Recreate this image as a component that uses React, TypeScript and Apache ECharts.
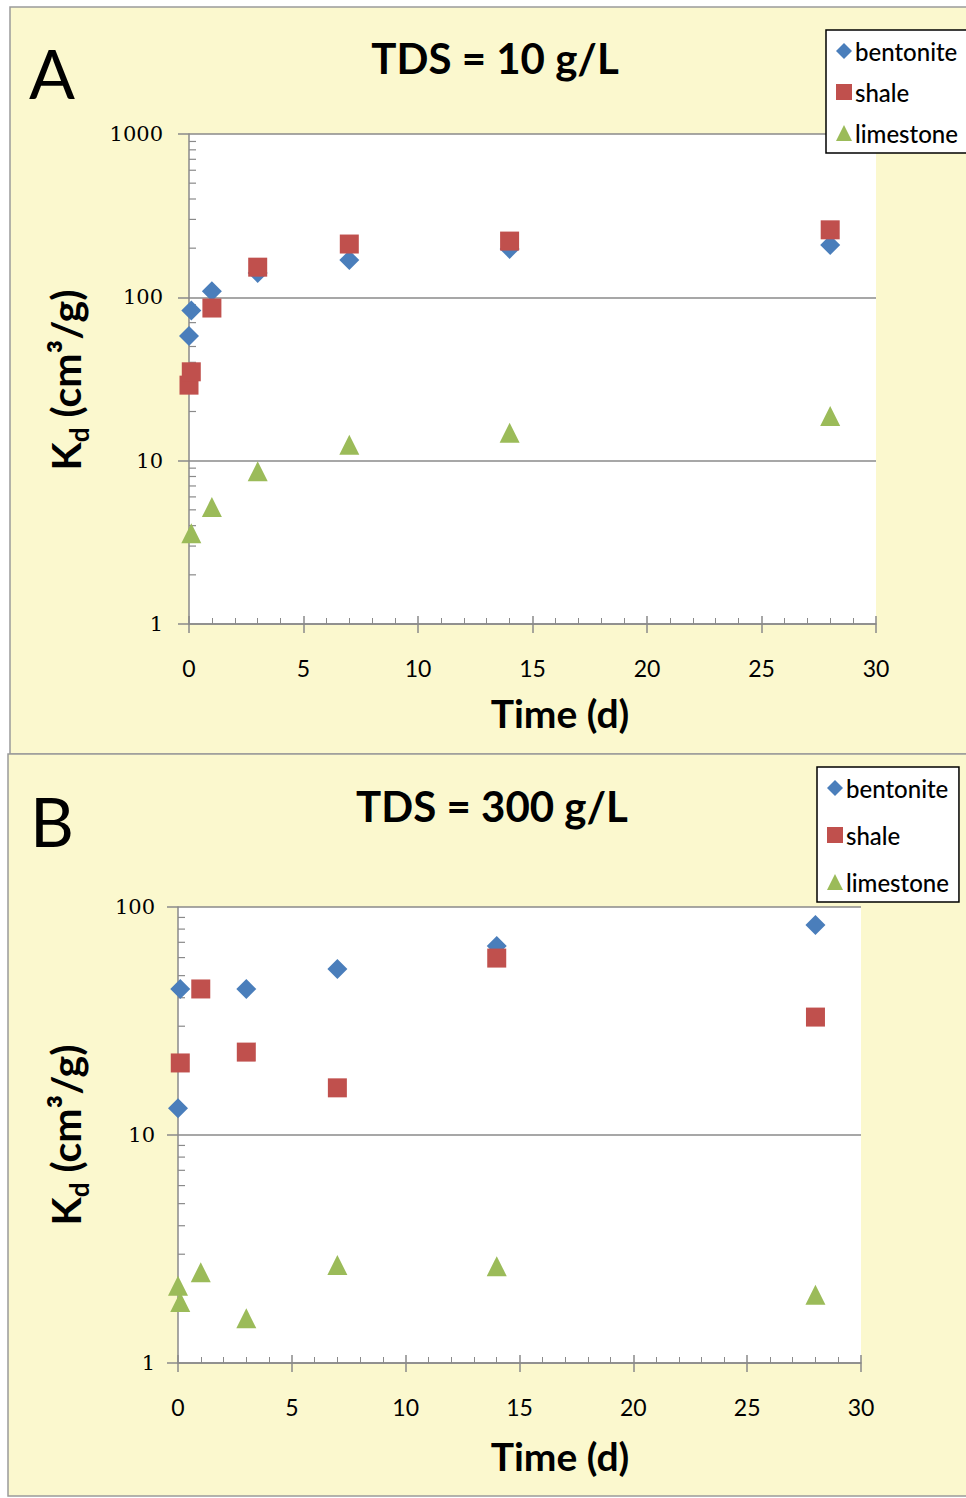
import React, { useEffect, useRef } from "react";
import * as echarts from "echarts";

// Sorption coefficient Kd (cm³/g) versus contact time (d)
const seriesNames = ["bentonite", "shale", "limestone"];
const seriesColors = ["#4A7EBB", "#C0504D", "#9BBB59"];
const seriesSymbols = ["diamond", "rect", "triangle"];

// Panel A: TDS = 10 g/L
const timeBentoniteA = [0, 0.1, 1, 3, 7, 14, 28];
const kdBentoniteA = [58, 83, 109, 141, 169, 198, 209];
const timeShaleA = [0, 0.1, 1, 3, 7, 14, 28];
const kdShaleA = [29, 35, 86, 153, 212, 221, 259];
const timeLimestoneA = [0.1, 1, 3, 7, 14, 28];
const kdLimestoneA = [3.6, 5.2, 8.6, 12.5, 14.8, 18.8];

// Panel B: TDS = 300 g/L
const timeBentoniteB = [0, 0.1, 3, 7, 14, 28];
const kdBentoniteB = [13.1, 43.7, 43.7, 53.5, 67.4, 83.4];
const timeShaleB = [0.1, 1, 3, 7, 14, 28];
const kdShaleB = [20.7, 43.7, 23.1, 16.1, 59.7, 32.9];
const timeLimestoneB = [0, 0.1, 1, 3, 7, 14, 28];
const kdLimestoneB = [2.18, 1.85, 2.5, 1.57, 2.69, 2.66, 1.99];

const panelTitles = ["TDS = 10 g/L", "TDS = 300 g/L"];
const panelLetters = ["A", "B"];
const xTitle = "Time (d)";
const yMaxA = 1000;
const yMaxB = 100;

// minor ticks of a log axis: 2..9 in every decade
const logMinorA = [2, 3, 4, 5, 6, 7, 8, 9, 20, 30, 40, 50, 60, 70, 80, 90, 200, 300, 400, 500, 600, 700, 800, 900];
const logMinorB = [2, 3, 4, 5, 6, 7, 8, 9, 20, 30, 40, 50, 60, 70, 80, 90];

const pairs = (t: number[], v: number[]) => t.map((x, i) => [x, v[i]]);

const SANS = 'Lato, "Noto Sans", sans-serif';
const SERIF = '"DejaVu Serif", "Liberation Serif", serif';
const PANEL_BG = "#FBF8CE";
const GRID_GRAY = "#8A8A8A";

export default function App() {
  const ref = useRef<HTMLDivElement>(null);

  useEffect(() => {
    if (!ref.current) return;
    const chart = echarts.init(ref.current, null, { renderer: "svg" });

    const grids = [
      { left: 189, top: 134, width: 687, height: 490 },
      { left: 178, top: 907, width: 683, height: 456 },
    ];

    const mainX = (gi: number) => ({
      gridIndex: gi,
      type: "value",
      min: 0,
      max: 30,
      interval: 5,
      position: "bottom",
      axisLine: { show: true, lineStyle: { color: GRID_GRAY, width: 1.5 } },
      axisTick: { show: true, inside: false, length: 9, lineStyle: { color: GRID_GRAY, width: 1.5 } },
      minorTick: { show: false },
      splitLine: { show: false },
      axisLabel: { margin: 32, fontFamily: SANS, fontSize: 23, color: "#000" },
    });
    const innerX = (gi: number) => ({
      gridIndex: gi,
      type: "value",
      min: 0,
      max: 30,
      interval: 5,
      position: "bottom",
      axisLine: { show: false },
      axisTick: { show: true, inside: true, length: 8, lineStyle: { color: GRID_GRAY, width: 1.5 } },
      minorTick: { show: true, splitNumber: 5, length: 6, lineStyle: { color: GRID_GRAY, width: 1 } },
      splitLine: { show: false },
      axisLabel: { show: false },
    });
    const logY = (gi: number, max: number, margin: number) => ({
      gridIndex: gi,
      type: "log",
      logBase: 10,
      min: 1,
      max,
      axisLine: { show: true, lineStyle: { color: GRID_GRAY, width: 1.5 } },
      axisTick: { show: true, inside: false, length: 11, lineStyle: { color: GRID_GRAY, width: 1.5 } },
      splitLine: { show: true, lineStyle: { color: GRID_GRAY, width: 1.5 } },
      axisLabel: { margin, fontFamily: SERIF, fontSize: 21, color: "#000", formatter: (v: number) => String(Math.round(v)) },
    });

    const scatter = (k: number, gi: number, data: number[][]) => ({
      name: seriesNames[k],
      type: "scatter",
      xAxisIndex: gi * 2,
      yAxisIndex: gi,
      symbol: seriesSymbols[k],
      symbolSize: k === 1 ? 19 : 20,
      itemStyle: { color: seriesColors[k], opacity: 1 },
      data,
      z: 5,
    });

    const minorTicks = (gi: number, vals: number[]) => ({
      type: "custom",
      xAxisIndex: gi * 2,
      yAxisIndex: gi,
      silent: true,
      clip: false,
      data: vals.map((v) => [0, v]),
      renderItem: (params: any, api: any) => {
        const p = api.coord([api.value(0), api.value(1)]);
        return {
          type: "line",
          shape: { x1: p[0], y1: p[1], x2: p[0] + 7, y2: p[1] },
          style: { stroke: GRID_GRAY, lineWidth: 1.2 },
        };
      },
      z: 3,
    });

    const legend = (left: number, top: number, gap: number) => ({
      data: seriesNames,
      orient: "vertical",
      left,
      top,
      backgroundColor: "#fff",
      borderColor: "#000",
      borderWidth: 1.5,
      borderRadius: 0,
      padding: [9, 10, 8, 10],
      itemGap: gap,
      itemWidth: 16,
      itemHeight: 16,
      textStyle: { fontFamily: SANS, fontSize: 24, fontWeight: 500, color: "#000", padding: [0, 0, 0, -2] },
      selectedMode: false,
    });

    const yTitle = (x: number, y: number) => ({
      type: "text",
      x,
      y,
      rotation: Math.PI / 2,
      style: {
        text: "{k|K}{s|d}{k| (cm³/g)}",
        align: "center",
        verticalAlign: "middle",
        rich: {
          k: { fontFamily: SANS, fontWeight: "bold", fontSize: 41, verticalAlign: "bottom", padding: [0, 0, 6, 0], fill: "#000" },
          s: { fontFamily: SANS, fontWeight: "bold", fontSize: 26, verticalAlign: "bottom", fill: "#000" },
        },
      },
    });

    const label = (x: number, y: number, text: string, size: number, bold: boolean) => ({
      type: "text",
      x,
      y,
      style: {
        text,
        fontFamily: SANS,
        fontSize: size,
        fontWeight: bold ? "bold" : "normal",
        fill: "#000",
        align: "center",
        verticalAlign: "middle",
      },
    });

    chart.setOption({
      animation: false,
      graphic: [
        { type: "rect", shape: { x: 10, y: 7, width: 970, height: 747 }, style: { fill: PANEL_BG, stroke: "#9A9A9A", lineWidth: 1.5 }, z: -10 },
        { type: "rect", shape: { x: 8, y: 754, width: 972, height: 742 }, style: { fill: PANEL_BG, stroke: "#9A9A9A", lineWidth: 1.5 }, z: -10 },
        label(52, 72, panelLetters[0], 68, false),
        label(52, 820, panelLetters[1], 68, false),
        label(495, 58, panelTitles[0], 42, true),
        label(492, 806, panelTitles[1], 42, true),
        label(560, 713, xTitle, 39, true),
        label(560, 1456, xTitle, 39, true),
        yTitle(68, 380),
        yTitle(68, 1135),
      ],
      grid: grids.map((g) => ({ ...g, show: true, backgroundColor: "#fff", borderWidth: 0, containLabel: false })),
      legend: [legend(826, 30, 17), legend(817, 767, 23)],
      xAxis: [mainX(0), innerX(0), mainX(1), innerX(1)],
      yAxis: [logY(0, yMaxA, 26), logY(1, yMaxB, 23)],
      series: [
        minorTicks(0, logMinorA),
        minorTicks(1, logMinorB),
        scatter(0, 0, pairs(timeBentoniteA, kdBentoniteA)),
        scatter(1, 0, pairs(timeShaleA, kdShaleA)),
        scatter(2, 0, pairs(timeLimestoneA, kdLimestoneA)),
        scatter(0, 1, pairs(timeBentoniteB, kdBentoniteB)),
        scatter(1, 1, pairs(timeShaleB, kdShaleB)),
        scatter(2, 1, pairs(timeLimestoneB, kdLimestoneB)),
      ],
    });

    return () => chart.dispose();
  }, []);

  return (
    <div
      ref={ref}
      style={{ position: "absolute", left: 0, top: 0, width: 966, height: 1498, background: "#fff" }}
    />
  );
}
